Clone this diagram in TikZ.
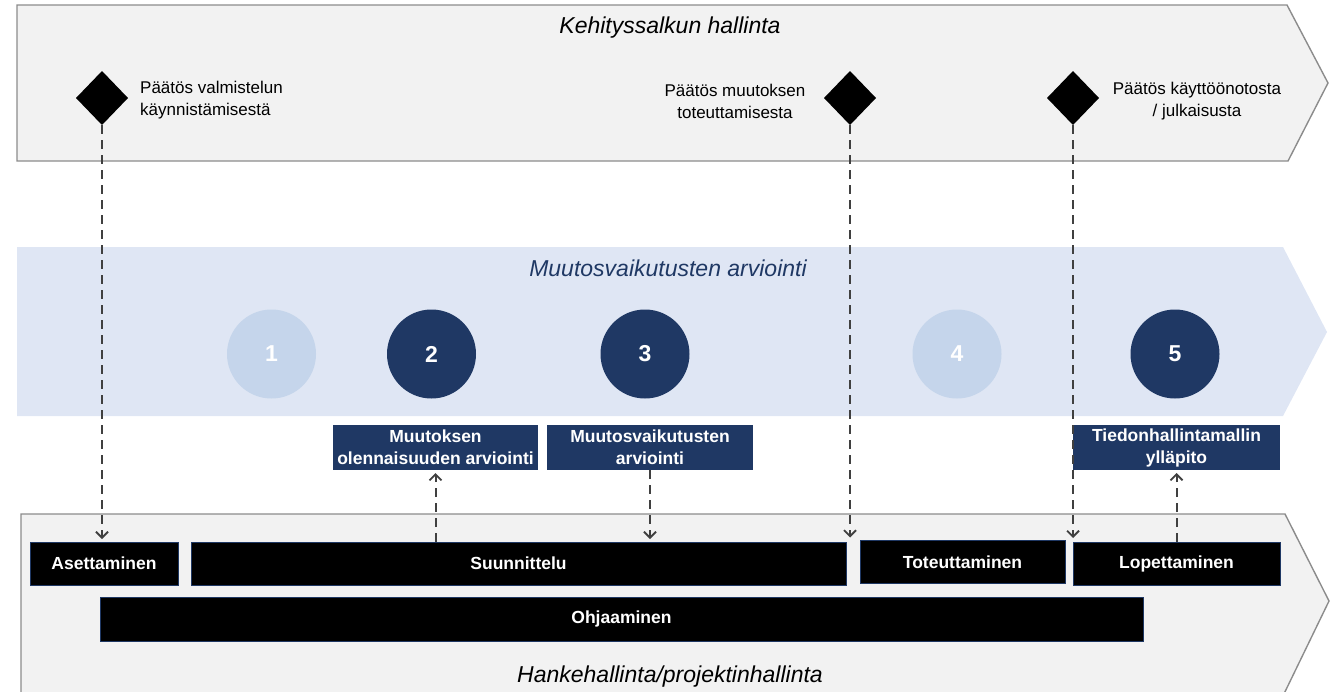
\documentclass[tikz,border=0pt]{standalone}
\usepackage{fontspec}
\setmainfont{Liberation Sans}
\usetikzlibrary{shapes.geometric,arrows.meta,calc}
\definecolor{navy}{HTML}{1F3864}
\definecolor{band}{HTML}{DFE6F4}
\definecolor{lightc}{HTML}{C5D5EB}
\definecolor{chev}{HTML}{F2F2F2}
\definecolor{chevline}{HTML}{8C8C8C}
\definecolor{arr}{HTML}{404040}
\tikzset{
  title/.style={font=\fontsize{23}{27}\selectfont\itshape, inner sep=0pt},
  dectext/.style={font=\fontsize{17}{22}\selectfont, inner sep=0pt},
  decision/.style={diamond, fill=black, minimum width=52pt, minimum height=54pt, inner sep=0pt, outer sep=0pt},
  numdark/.style={circle, fill=navy, minimum size=89pt, inner sep=0pt, text=white, font=\fontsize{23}{26}\selectfont\bfseries},
  numlight/.style={circle, fill=lightc, minimum size=89pt, inner sep=0pt, text=white, font=\fontsize{23}{26}\selectfont\bfseries},
  bluebox/.style={rectangle, fill=navy, minimum height=45pt, inner sep=0pt, outer sep=0pt, text=white, align=center, font=\fontsize{17.5}{22}\selectfont\bfseries},
  blackbox/.style={rectangle, fill=black, draw=navy, line width=1pt, minimum height=43pt, inner sep=0pt, outer sep=0pt, text=white, align=center, font=\fontsize{17.5}{22}\selectfont\bfseries},
  dasharrow/.style={draw=arr, line width=2pt, dash pattern=on 9pt off 6pt, -{Straight Barb[length=6pt,width=12pt,line width=1.8pt]}},
}
\begin{document}
\begin{tikzpicture}[x=1pt,y=-1pt]
\useasboundingbox (0,0) rectangle (1330,691);
\clip (0,0) rectangle (1330,691);
% chevrons
\path[fill=chev, draw=chevline, line width=1.4pt] (17,5) -- (1287,5) -- (1328,83) -- (1288,161) -- (17,161) -- cycle;
\path[fill=band] (17,247) -- (1283,247) -- (1327,332) -- (1283,416) -- (17,416) -- cycle;
\path[fill=chev] (21,700) -- (21,514) -- (1285,514) -- (1329,601) -- (1281,700) -- cycle;
\draw[chevline, line width=1.4pt] (21,700) -- (21,514) -- (1285,514) -- (1329,601) -- (1281,700);
% titles
\node[title, anchor=base] (t1) at (670,33) {Kehityssalkun hallinta};
\node[title, anchor=base, text=navy] (t2) at (668,276) {Muutosvaikutusten arviointi};
\node[title, anchor=base] (t3) at (670,682) {Hankehallinta/projektinhallinta};
% decisions
\node[decision] (d1) at (102,98) {};
\node[decision] (d2) at (850,98) {};
\node[decision] (d3) at (1073,98) {};
\node[dectext, anchor=west, align=left] (l1) at (140,100) {Päätös valmistelun\\käynnistämisestä};
\node[dectext, align=center] (l2) at (735,101) {Päätös muutoksen\\toteuttamisesta};
\node[dectext, align=center] (l3) at (1197,101) {Päätös käyttöönotosta\\/ julkaisusta};
% circles
\node[numlight] (c1) at (271.5,354) {1};
\node[numdark] (c2) at (431.5,354) {2};
\node[numdark] (c3) at (645,354) {3};
\node[numlight] (c4) at (957,354) {4};
\node[numdark] (c5) at (1175,354) {5};
% blue boxes
\node[bluebox, minimum width=205pt] (b1) at (435.5,447.5) {Muutoksen\\olennaisuuden arviointi};
\node[bluebox, minimum width=206pt] (b2) at (650,447.5) {Muutosvaikutusten\\arviointi};
\node[bluebox, minimum width=207pt] (b3) at (1176.5,447.5) {Tiedonhallintamallin\\ylläpito};
% black boxes
\node[blackbox, minimum width=148pt] (asett) at (104,563.5) {Asettaminen};
\node[blackbox, minimum width=655pt] (suun) at (518.5,563.5) {Suunnittelu};
\node[blackbox, minimum width=205pt] (toteu) at (962.5,562) {Toteuttaminen};
\node[blackbox, minimum width=207pt] (lopet) at (1176.5,563.5) {Lopettaminen};
\node[blackbox, minimum width=1043pt, minimum height=44pt] (ohj) at (621.5,619) {Ohjaaminen};
% connectors
\draw[dasharrow, shorten >=3pt] (d1.south) -- (d1.south |- asett.north);
\draw[dasharrow, shorten >=3pt] (d2.south) -- (d2.south |- toteu.north);
\draw[dasharrow, shorten >=4pt] (d3.south) -- (d3.south |- lopet.north);
\draw[dasharrow, shorten >=3pt] (b1.south |- suun.north) -- (b1.south);
\draw[dasharrow, shorten >=3pt] (b2.south) -- (b2.south |- suun.north);
\draw[dasharrow, shorten >=3pt] (b3.south |- lopet.north) -- (b3.south);
\end{tikzpicture}
\end{document}
